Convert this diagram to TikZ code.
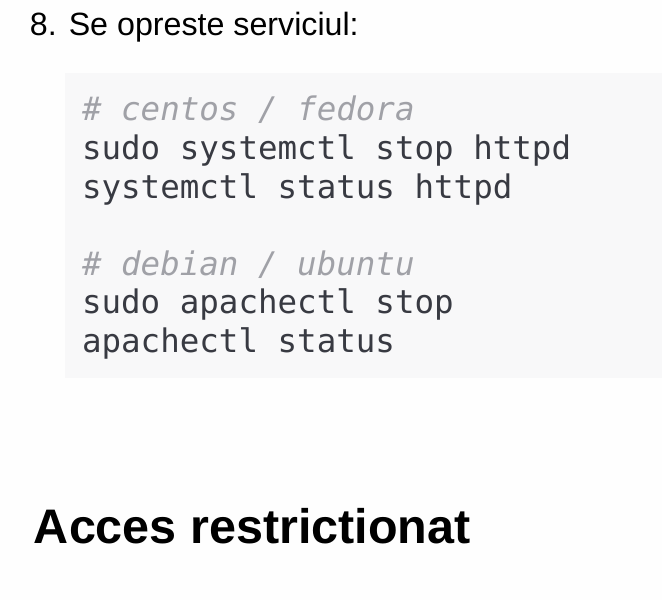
\documentclass[tikz,border=0pt]{standalone}
\usepackage{fontspec}
\setmainfont{Liberation Sans}
\newfontfamily\codefont{DejaVu Sans Mono}
\definecolor{bgcol}{HTML}{FEFEFE}
\definecolor{boxcol}{HTML}{F8F8F9}
\definecolor{codecol}{HTML}{383A42}
\definecolor{commcol}{HTML}{A0A1A7}
\tikzset{
  txt/.style={anchor=base west, inner sep=0pt, outer sep=0pt},
  codeline/.style={txt, font=\codefont\fontsize{32.5}{39}\selectfont, text=codecol},
  commline/.style={codeline, text=commcol, font=\codefont\itshape\fontsize{32.5}{39}\selectfont},
}
\begin{document}
\begin{tikzpicture}[x=1pt,y=1pt]
\useasboundingbox (0,0) rectangle (662,-600);
\fill[bgcol] (0,0) rectangle (662,-600);
\node[txt, font=\fontsize{32.2}{36}\selectfont] (title) at (30,-35) {8. Se opreste serviciul:};
\fill[boxcol] (65,-73) rectangle (662,-378);
\node[commline] (c1) at (82,-120) {\# centos / fedora};
\node[codeline] (l2) at (82,-159) {sudo systemctl stop httpd};
\node[codeline] (l3) at (82,-198) {systemctl status httpd};
\node[commline] (c2) at (82,-275) {\# debian / ubuntu};
\node[codeline] (l6) at (82,-313.5) {sudo apachectl stop};
\node[codeline] (l7) at (82,-352) {apachectl status};
\node[txt, font=\bfseries\fontsize{48.5}{56}\selectfont] (head) at (34,-543) {Acces restrictionat};
\end{tikzpicture}
\end{document}
